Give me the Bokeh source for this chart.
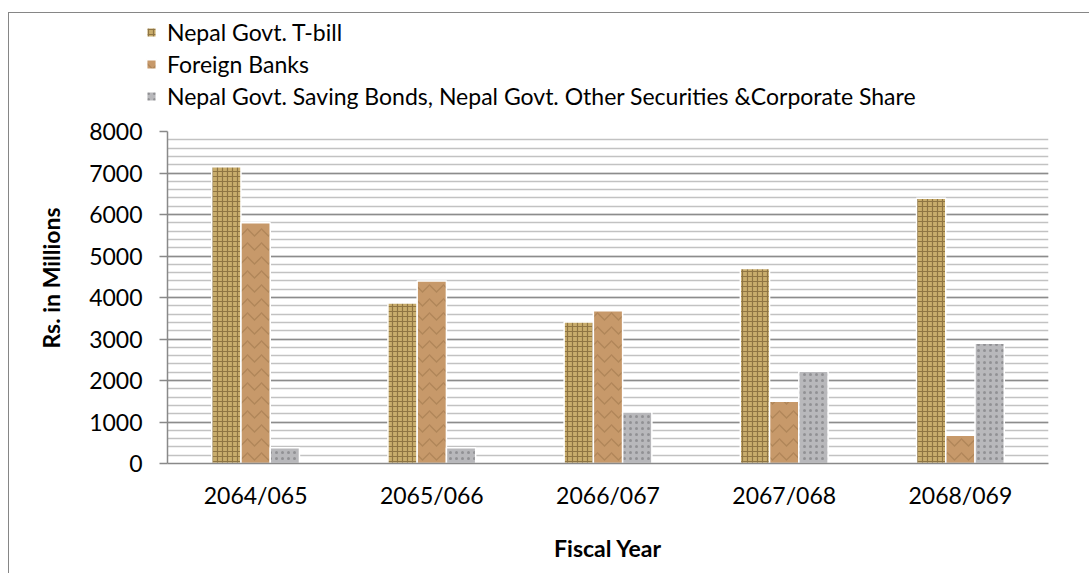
from bokeh.plotting import figure
from bokeh.models import (ColumnDataSource, FactorRange, Range1d, SingleIntervalTicker,
                          Legend, LegendItem, Title)
from bokeh.layouts import column
from bokeh.transform import dodge
from bokeh.embed import file_html
from bokeh.resources import INLINE

# ---- data ----
years = ["2064/065", "2065/066", "2066/067", "2067/068", "2068/069"]
tbill = [7150, 3870, 3410, 4700, 6390]
foreign_banks = [5800, 4400, 3680, 1500, 680]
other_secs = [380, 380, 1240, 2220, 2900]
series_names = ["Nepal Govt. T-bill", "Foreign Banks",
                "Nepal Govt. Saving Bonds, Nepal Govt. Other Securities &Corporate Share"]
y_ticks_step = 1000

FONT = "Lato"
FS = "23px"
W = 1080

STYLES = [
    dict(fill_color="#c9ad6c", line_color="white", line_width=1.5,
         hatch_pattern="cross", hatch_color="#5f4720", hatch_alpha=0.55, hatch_scale=5, hatch_weight=1.2),
    dict(fill_color="#c7996a", line_color="white", line_width=1.5,
         hatch_pattern="horizontal_wave", hatch_color="#86603a", hatch_alpha=0.35, hatch_scale=14, hatch_weight=1.5),
    dict(fill_color="#b8b8bb", line_color="white", line_width=1.5,
         hatch_pattern="dot", hatch_color="#69696d", hatch_alpha=0.5, hatch_scale=6, hatch_weight=2),
]
COLS = ("tbill", "fb", "oth")

src = ColumnDataSource(dict(year=years, tbill=tbill, fb=foreign_banks, oth=other_secs))
bw = 0.166

# ---------- main chart ----------
p = figure(x_range=FactorRange(*years), y_range=Range1d(0, 8000),
           width=W, height=460, output_backend="svg", toolbar_location=None,
           min_border_left=158, min_border_right=41, min_border_top=18, min_border_bottom=110)
p.frame_align = False
p.outline_line_color = None
p.background_fill_color = "white"
p.border_fill_color = "white"

for off, col, st in zip((-bw, 0, bw), COLS, STYLES):
    p.vbar(x=dodge("year", off, range=p.x_range), top=col, width=bw, source=src, **st)

p.yaxis.ticker = SingleIntervalTicker(interval=y_ticks_step, num_minor_ticks=5)
p.xaxis.axis_label = "Fiscal Year"
for ax in (p.xaxis, p.yaxis):
    ax.axis_line_color = "#898989"
    ax.axis_line_width = 1.5
    ax.major_label_text_font = FONT
    ax.major_label_text_font_size = FS
    ax.major_label_text_color = "black"
    ax.axis_label_text_font = FONT
    ax.axis_label_text_font_size = FS
    ax.axis_label_text_font_style = "bold"
    ax.axis_label_text_color = "black"
    ax.minor_tick_line_color = None
p.yaxis.major_tick_out = 8
p.yaxis.major_tick_in = 0
p.yaxis.major_tick_line_color = "#898989"
p.yaxis.major_tick_line_width = 1.5
p.yaxis.major_label_standoff = 17
p.xaxis.major_tick_line_color = None
p.xaxis.major_tick_out = 0
p.xaxis.major_label_standoff = 17
p.xaxis.axis_label_standoff = 22

# y-axis title (sits a little above the frame centre, as in the original)
p.add_layout(Title(text="Rs. in Millions", align="left", offset=115, standoff=44,
                   vertical_align="bottom",
                   text_font=FONT, text_font_size=FS, text_font_style="bold",
                   text_color="black"), "left")

p.xgrid.grid_line_color = None
p.ygrid.grid_line_color = "#8c8c8c"
p.ygrid.grid_line_width = 1.5
p.ygrid.minor_grid_line_color = "#c2c2c2"
p.ygrid.minor_grid_line_width = 1.5

# ---------- legend strip above (same series, drawn out of view; only legend shows) ----------
top = figure(x_range=FactorRange(*years), y_range=Range1d(9000, 9100), width=W, height=100,
             output_backend="svg", toolbar_location=None,
             min_border_left=0, min_border_right=0, min_border_top=0, min_border_bottom=0)
top.frame_align = False
top.axis.visible = False
top.grid.visible = False
top.outline_line_color = None
items = []
for name, off, col, st in zip(series_names, (-bw, 0, bw), COLS, STYLES):
    r = top.vbar(x=dodge("year", off, range=top.x_range), top=col, width=bw, source=src, **st)
    items.append(LegendItem(label=name, renderers=[r]))
lg = Legend(items=items, location=(136, 2), orientation="vertical",
            padding=0, margin=0, spacing=2, border_line_color=None,
            background_fill_alpha=0, label_text_font=FONT, label_text_font_size=FS,
            label_text_color="black", label_height=30, glyph_height=12, glyph_width=12,
            label_standoff=10)
top.add_layout(lg, "center")

layout = column(top, p, spacing=0, margin=(12, 0, 0, 8),
                styles={"border-left": "1px solid #868686", "border-top": "1px solid #868686"})

open("out.html", "w").write(file_html(layout, INLINE))
